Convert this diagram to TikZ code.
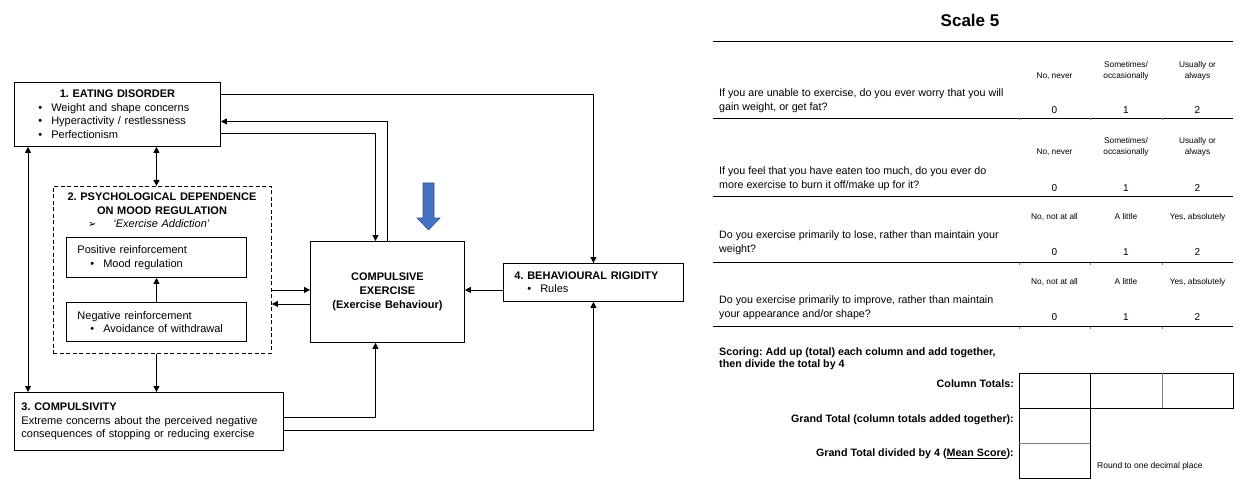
\documentclass[tikz,border=0pt]{standalone}
\usepackage{fontspec}
\setmainfont{Liberation Sans}
\newfontfamily\symfont{DejaVu Sans}
\usetikzlibrary{arrows.meta}
\definecolor{arrowblue}{HTML}{4472C4}
\definecolor{arrowedge}{HTML}{2F528F}
\newcommand{\blt}[1]{\hspace*{#1}\textbullet\hspace{9pt}}
\frenchspacing

\begin{document}
\begin{tikzpicture}[x=1pt, y=-1pt,
  box/.style={draw, line width=0.9pt, anchor=north west, inner ysep=0pt, align=left, font=\fontsize{11}{13.5}\selectfont},
  link/.style={line width=0.8pt, -{Triangle[length=6pt,width=6pt]}},
  both/.style={line width=0.8pt, {Triangle[length=6pt,width=6pt]}-{Triangle[length=6pt,width=6pt]}},
  rule/.style={line width=0.9pt},
  tick/.style={line width=0.5pt, gray},
  quest/.style={anchor=west, inner sep=0pt, align=left, font=\fontsize{10.7}{14}\selectfont},
  head/.style={anchor=south, inner sep=0pt, align=center, font=\fontsize{8.3}{10.8}\selectfont, execute at end node={\strut}},
  score/.style={inner sep=0pt, font=\fontsize{10}{12}\selectfont},
  sum/.style={anchor=east, inner sep=0pt, font=\bfseries\fontsize{10.7}{12}\selectfont}]

  \useasboundingbox (0,0) rectangle (1244,497);

  % boxes
  \node[box, minimum width=206pt, minimum height=64pt, text width=198pt, inner xsep=4pt] (ed) at (14,82)
    {{\centering\bfseries 1. EATING DISORDER\par}
     \blt{20pt}Weight and shape concerns\par
     \blt{20pt}Hyperactivity / restlessness\par
     \blt{20pt}Perfectionism};
  \node[draw, line width=0.9pt, dash pattern=on 4pt off 2.5pt, anchor=north west, minimum width=218pt, minimum height=167pt] (dep) at (53,186) {};
  \node[anchor=north, inner sep=0pt, text width=214pt, align=left, font=\fontsize{11}{13.5}\selectfont] (deptitle) at (162,193)
    {{\centering\bfseries 2. PSYCHOLOGICAL DEPENDENCE\par ON MOOD REGULATION\par}
     \hspace*{33pt}{\symfont\fontsize{10}{10}\selectfont ➢}\hspace{17pt}\textit{‘Exercise Addiction’}};
  \node[box, minimum width=180pt, minimum height=40pt, text width=158pt, inner xsep=11pt] (pos) at (66,237)
    {Positive reinforcement\par\blt{13pt}Mood regulation};
  \node[box, minimum width=180pt, minimum height=39pt, text width=158pt, inner xsep=11pt] (neg) at (66,302)
    {Negative reinforcement\par\blt{13pt}Avoidance of withdrawal};
  \node[box, align=center, minimum width=154pt, minimum height=101pt, text width=146pt, inner xsep=4pt, font=\bfseries\fontsize{11}{14}\selectfont] (ce) at (310,241)
    {COMPULSIVE\\EXERCISE\\(Exercise Behaviour)};
  \node[box, minimum width=180pt, minimum height=38pt, text width=158pt, inner xsep=11pt] (br) at (503,263)
    {\textbf{4. BEHAVIOURAL RIGIDITY}\par\blt{13pt}Rules};
  \node[box, minimum width=269pt, minimum height=58pt, text width=255pt, inner xsep=7pt] (cmp) at (14,392)
    {\textbf{3. COMPULSIVITY}\par
     Extreme concerns about the perceived negative\par
     consequences of stopping or reducing exercise\par\vspace*{11pt}};

  % block arrow
  \filldraw[fill=arrowblue, draw=arrowedge, line width=0.6pt]
    (423,183) -- (434,183) -- (434,218) -- (440,218) -- (428.5,230) -- (417,218) -- (423,218) -- cycle;

  % arrows
  \coordinate (ceIn) at ([yshift=2pt]ce.west);
  \coordinate (ceOut) at ([yshift=-12pt]ce.west);
  \draw[link] ([yshift=-12pt]ed.north east) -| (br.north);
  \draw[link] (ce.north) |- ([yshift=-7pt]ed.east);
  \draw[link] ([yshift=-19pt]ed.east) -| ([xshift=-12pt]ce.north);
  \draw[both] (ed.south -| pos.north) -- (dep.north -| pos.north);
  \draw[both] ([xshift=14pt]ed.south west) -- ([xshift=14pt]cmp.north west);
  \draw[link] (dep.south -| neg.south) -- (cmp.north -| neg.south);
  \draw[link] (neg.north) -- (pos.south);
  \draw[link] (dep.east |- ceIn) -- (ceIn);
  \draw[link] (ceOut) -- (dep.east |- ceOut);
  \draw[link] (br.west |- ceIn) -- (ce.east |- ceIn);
  \draw[link] ([yshift=4pt]cmp.east) -| ([xshift=-12pt]ce.south);
  \draw[link] ([yshift=-9pt]cmp.east) -| (br.south);

  % scale 5
  \node[font=\bfseries\fontsize{17}{20}\selectfont] (title) at (970,20) {Scale 5};
  \draw[rule] (713,41.7) -- (1233,41.7);
  \draw[rule] (713,118) -- (1233,118);
  \draw[rule] (713,196.7) -- (1233,196.7);
  \draw[rule] (713,262) -- (1233,262);
  \draw[rule] (713,326.5) -- (1233,326.5);
  \draw[tick] (1019,118.5) -- ++(0,2) (1090,118.5) -- ++(0,2) (1162,118.5) -- ++(0,2);
  \draw[tick] (1019,262.5) -- ++(0,2) (1090,262.5) -- ++(0,2) (1162,262.5) -- ++(0,2);
  \draw[tick] (1019,327) -- ++(0,2) (1090,327) -- ++(0,2) (1162,327) -- ++(0,2);

  \node[head] (h11) at (1054.5,82) {No, never};
  \node[head] (h12) at (1126,82) {Sometimes/\\occasionally};
  \node[head] (h13) at (1197.5,82) {Usually or\\always};
  \node[quest] (q1) at (719,100.5) {If you are unable to exercise, do you ever worry that you will\\gain weight, or get fat?};
  \node[score] (s10) at (1054.5,110) {0};
  \node[score] (s11) at (1126,110) {1};
  \node[score] (s12) at (1197.5,110) {2};

  \node[head] (h21) at (1054.5,158) {No, never};
  \node[head] (h22) at (1126,158) {Sometimes/\\occasionally};
  \node[head] (h23) at (1197.5,158) {Usually or\\always};
  \node[quest] (q2) at (719,178.5) {If you feel that you have eaten too much, do you ever do\\more exercise to burn it off/make up for it?};
  \node[score] (s20) at (1054.5,188) {0};
  \node[score] (s21) at (1126,188) {1};
  \node[score] (s22) at (1197.5,188) {2};

  \node[head] (h31) at (1054.5,223) {No, not at all};
  \node[head] (h32) at (1126,223) {A little};
  \node[head] (h33) at (1197.5,223) {Yes, absolutely};
  \node[quest] (q3) at (719,242.5) {Do you exercise primarily to lose, rather than maintain your\\weight?};
  \node[score] (s30) at (1054.5,252) {0};
  \node[score] (s31) at (1126,252) {1};
  \node[score] (s32) at (1197.5,252) {2};

  \node[head] (h41) at (1054.5,288) {No, not at all};
  \node[head] (h42) at (1126,288) {A little};
  \node[head] (h43) at (1197.5,288) {Yes, absolutely};
  \node[quest] (q4) at (719,307.5) {Do you exercise primarily to improve, rather than maintain\\your appearance and/or shape?};
  \node[score] (s40) at (1054.5,317) {0};
  \node[score] (s41) at (1126,317) {1};
  \node[score] (s42) at (1197.5,317) {2};

  % scoring
  \node[anchor=north west, inner sep=0pt, align=left, font=\bfseries\fontsize{10.7}{12}\selectfont] (scoring) at (719,348)
    {Scoring: Add up (total) each column and add together,\\then divide the total by 4};
  \node[sum] (coltot) at (1014,384) {Column Totals:};
  \node[sum] (grand) at (1014,420) {Grand Total (column totals added together):};
  \node[sum] (mean) at (1014,454) {Grand Total divided by 4 (\underline{Mean Score}):};
  \draw[rule] (1019,373) rectangle (1233,408);
  \draw[rule] (1090,373) -- (1090,408);
  \draw[rule, gray] (1162,373) -- (1162,408);
  \draw[rule] (1019,408) rectangle (1090,478);
  \draw[rule, gray] (1019,443) -- (1090,443);
  \node[anchor=west, inner sep=0pt, font=\fontsize{8.5}{10}\selectfont] (round) at (1097,466) {Round to one decimal place};
\end{tikzpicture}
\end{document}
